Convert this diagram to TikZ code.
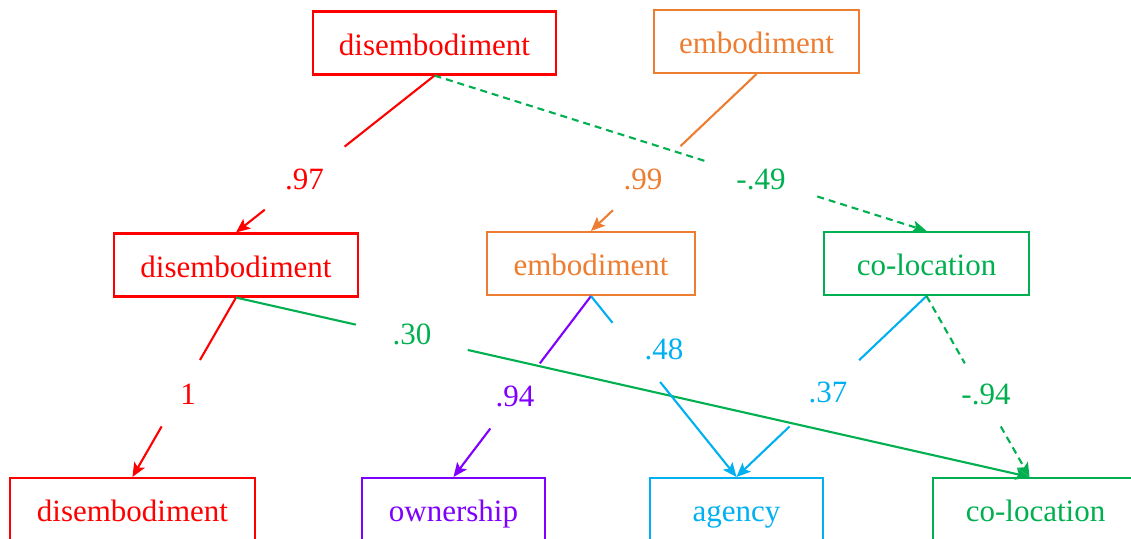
\documentclass[tikz,border=0pt]{standalone}
\usepackage{fontspec}
\setmainfont{Liberation Serif}
\usetikzlibrary{calc,arrows.meta}
\definecolor{cred}{HTML}{FF0000}
\definecolor{corange}{HTML}{ED7D31}
\definecolor{cgreen}{HTML}{00B050}
\definecolor{cpurple}{HTML}{8000FF}
\definecolor{cblue}{HTML}{00B0F0}
\begin{document}
\begin{tikzpicture}[x=1pt,y=-1pt,
  box/.style={draw, line width=2.1pt, inner sep=0pt, minimum height=63pt,
    font=\fontsize{31}{37}\selectfont, text height=30pt, text depth=6pt},
  lbl/.style={inner sep=0pt, font=\fontsize{31}{37}\selectfont, text height=20.5pt, text depth=0pt},
  conn/.style={line width=2.1pt},
  arr/.style={line width=2.1pt, -{Stealth[length=14pt,width=12pt,inset=3pt]}},
  dashline/.style={dash pattern=on 7pt off 5pt}
]
\clip (0,0) rectangle (1131,538);
\fill[white] (0,0) rectangle (1131,538);

% nodes
\node[box, cred, minimum width=243pt] (d1) at (434.5,43) {disembodiment};
\node[box, corange, minimum width=205pt] (e1) at (756.5,41.5) {embodiment};
\node[box, cred, minimum width=244pt] (d2) at (236,265) {disembodiment};
\node[box, corange, minimum width=208pt] (e2) at (591,263.5) {embodiment};
\node[box, cgreen, minimum width=205pt] (c2) at (926.5,263.5) {co-location};
\node[box, cred, minimum width=245pt] (d3) at (132.5,509.5) {disembodiment};
\node[box, cpurple, minimum width=183pt] (o3) at (453.5,509.5) {ownership};
\node[box, cblue, minimum width=173pt] (a3) at (736.5,509.5) {agency};
\node[box, cgreen, minimum width=205pt] (c3) at (1035.5,509.5) {co-location};
\coordinate (c3in) at ($(c3.north)+(-6,0)$);

% E1 red .97
\draw[conn, cred] (d1.south) -- ($(d1.south)!0.453!(d2.north)$);
\draw[arr, cred] ($(d1.south)!0.855!(d2.north)$) -- (d2.north);
\node[lbl, cred] (l97) at (304.5,179) {.97};

% E2 orange .99
\draw[conn, corange] (e1.south) -- ($(e1.south)!0.459!(e2.north)$);
\draw[arr, corange] ($(e1.south)!0.868!(e2.north)$) -- (e2.north);
\node[lbl, corange] (l99) at (643,179) {.99};

% E3 green dashed -.49
\draw[conn, cgreen, dashline] (d1.south) -- ($(d1.south)!0.557!(c2.north)$);
\draw[arr, cgreen, dashline] ($(d1.south)!0.778!(c2.north)$) -- (c2.north);
\node[lbl, cgreen] (l49) at (761,179) {-.49};

% E4 red 1
\draw[conn, cred] (d2.south) -- ($(d2.south)!0.348!(d3.north)$);
\draw[arr, cred] ($(d2.south)!0.718!(d3.north)$) -- (d3.north);
\node[lbl, cred] (l1) at (188,394) {1};

% E5 green .30
\draw[conn, cgreen] (d2.south) -- ($(d2.south)!0.151!(c3in)$);
\draw[arr, cgreen] ($(d2.south)!0.292!(c3in)$) -- (c3in);
\node[lbl, cgreen] (l30) at (412,334) {.30};

% E6 purple .94
\draw[conn, cpurple] (e2.south) -- ($(e2.south)!0.372!(o3.north)$);
\draw[arr, cpurple] ($(e2.south)!0.732!(o3.north)$) -- (o3.north);
\node[lbl, cpurple] (l94a) at (515,396) {.94};

% E7 blue .48
\draw[conn, cblue] (e2.south) -- ($(e2.south)!0.148!(a3.north)$);
\draw[arr, cblue] ($(e2.south)!0.475!(a3.north)$) -- (a3.north);
\node[lbl, cblue] (l48) at (664,349) {.48};

% E8 blue .37
\draw[conn, cblue] (c2.south) -- ($(c2.south)!0.355!(a3.north)$);
\draw[arr, cblue] ($(c2.south)!0.721!(a3.north)$) -- (a3.north);
\node[lbl, cblue] (l37) at (828,392) {.37};

% E9 green dashed -.94
\draw[conn, cgreen, dashline] (c2.south) -- ($(c2.south)!0.372!(c3in)$);
\draw[arr, cgreen, dashline] ($(c2.south)!0.721!(c3in)$) -- (c3in);
\node[lbl, cgreen] (l94b) at (986,394) {-.94};
\end{tikzpicture}
\end{document}
